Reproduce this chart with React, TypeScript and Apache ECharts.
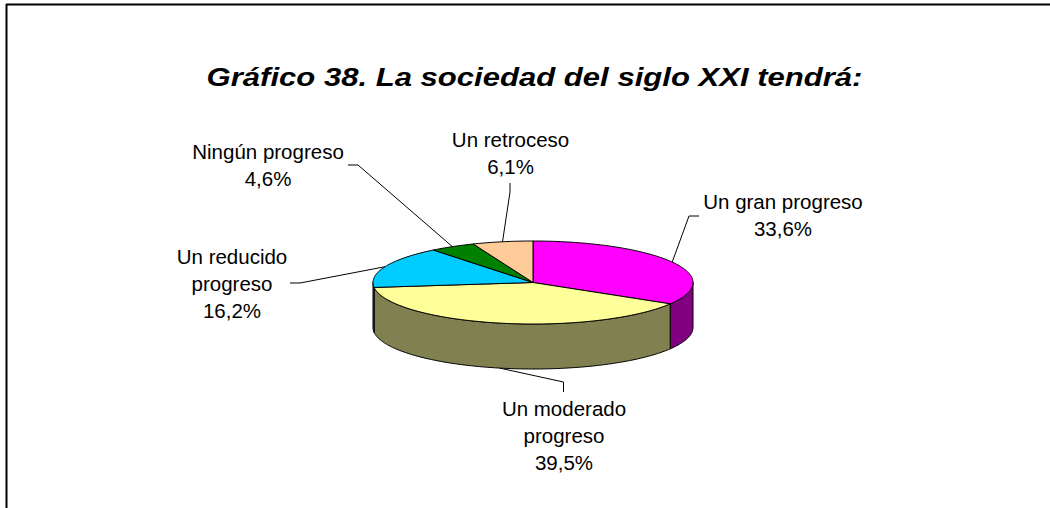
import React, { useEffect, useRef } from "react";
import * as echarts from "echarts";

const titleText = "Gráfico 38. La sociedad del siglo XXI tendrá:";
const categories = [
  "Un gran progreso",
  "Un moderado\nprogreso",
  "Un reducido\nprogreso",
  "Ningún progreso",
  "Un retroceso",
];
const values = [33.6, 39.5, 16.2, 4.6, 6.1];
const topColors = ["#FF00FF", "#FFFF99", "#00CCFF", "#008000", "#FFCC99"];
const wallColors = ["#800080", "#808050", "#006680", "#004000", "#806650"];

// Pie geometry (projected ellipse) and label placement
const CX = 533;
const CY = 282.5;
const RX = 160;
const RY = 41.5;
const DEPTH = 45;
const FONT = '20.5px "Liberation Sans", Arial, sans-serif';
const LINE_HEIGHT = 27;
const labelCenters = [
  [783, 215],
  [564, 435],
  [232, 283],
  [268, 164.5],
  [510.5, 153],
];
const leaderBends = [
  [[689, 216], [699, 216]],
  [[563.5, 382], [563.5, 392]],
  [[300, 283], [290, 283]],
  [[358, 165], [348, 165]],
  [[510, 192], [510, 183]],
];

const total = values.reduce((a, b) => a + b, 0);
const pt = (deg: number, dy = 0) => {
  const r = (deg * Math.PI) / 180;
  return [CX + RX * Math.sin(r), CY - RY * Math.cos(r) + dy];
};
const arcPts = (a0: number, a1: number, dy = 0) => {
  const n = Math.max(2, Math.ceil(Math.abs(a1 - a0)));
  const out: number[][] = [];
  for (let i = 0; i <= n; i++) out.push(pt(a0 + ((a1 - a0) * i) / n, dy));
  return out;
};

const renderItem = (params: any, api: any) => {
  const i = params.dataIndex;
  const before = values.slice(0, i).reduce((a, b) => a + b, 0);
  const a0 = (before / total) * 360;
  const a1 = a0 + (api.value(0) / total) * 360;
  const children: any[] = [];

  const w0 = Math.max(a0, 90);
  const w1 = Math.min(a1, 270);
  if (w1 > w0) {
    children.push({
      type: "polygon",
      z2: 1,
      shape: { points: [...arcPts(w0, w1), ...arcPts(w1, w0, DEPTH)] },
      style: { fill: wallColors[i], stroke: "#000", lineWidth: 1 },
    });
  }
  children.push({
    type: "polygon",
    z2: 2,
    shape: { points: [[CX, CY], ...arcPts(a0, a1)] },
    style: { fill: topColors[i], stroke: "#000", lineWidth: 1 },
  });

  const mid = (a0 + a1) / 2;
  const isFront = mid > 90 && mid < 270;
  const start = pt(mid, isFront ? DEPTH : 0);
  children.push({
    type: "polyline",
    z2: isFront ? 0 : 3,
    shape: { points: [start, ...leaderBends[i]] },
    style: { fill: "none", stroke: "#000", lineWidth: 1 },
  });
  children.push({
    type: "text",
    z2: 4,
    x: labelCenters[i][0],
    y: labelCenters[i][1],
    style: {
      text: `${categories[i]}\n${values[i].toFixed(1).replace(".", ",")}%`,
      font: FONT,
      fill: "#000",
      align: "center",
      verticalAlign: "middle",
      lineHeight: LINE_HEIGHT,
    },
  });
  return { type: "group", children };
};

export default function App() {
  const ref = useRef<HTMLDivElement>(null);
  useEffect(() => {
    const chart = echarts.init(ref.current!, null, { renderer: "svg" });
    chart.setOption({
      animation: false,
      backgroundColor: "#fff",
      graphic: [
        {
          type: "line",
          shape: { x1: 6, y1: 4.5, x2: 1050, y2: 4.5 },
          style: { stroke: "#000", lineWidth: 2 },
        },
        {
          type: "line",
          shape: { x1: 6.5, y1: 4, x2: 6.5, y2: 508 },
          style: { stroke: "#000", lineWidth: 2 },
        },
        {
          type: "text",
          x: 534.5,
          y: 77,
          scaleX: 1.243,
          style: {
            text: titleText,
            font: 'italic bold 25px "Liberation Sans", Arial, sans-serif',
            fill: "#000",
            align: "center",
            verticalAlign: "middle",
          },
        },
      ],
      series: [
        {
          type: "custom",
          coordinateSystem: "none",
          silent: true,
          data: values.map((v) => [v]),
          renderItem,
        },
      ],
    });
    return () => chart.dispose();
  }, []);
  return (
    <div
      ref={ref}
      style={{ position: "fixed", left: 0, top: 0, width: 1050, height: 508 }}
    />
  );
}
